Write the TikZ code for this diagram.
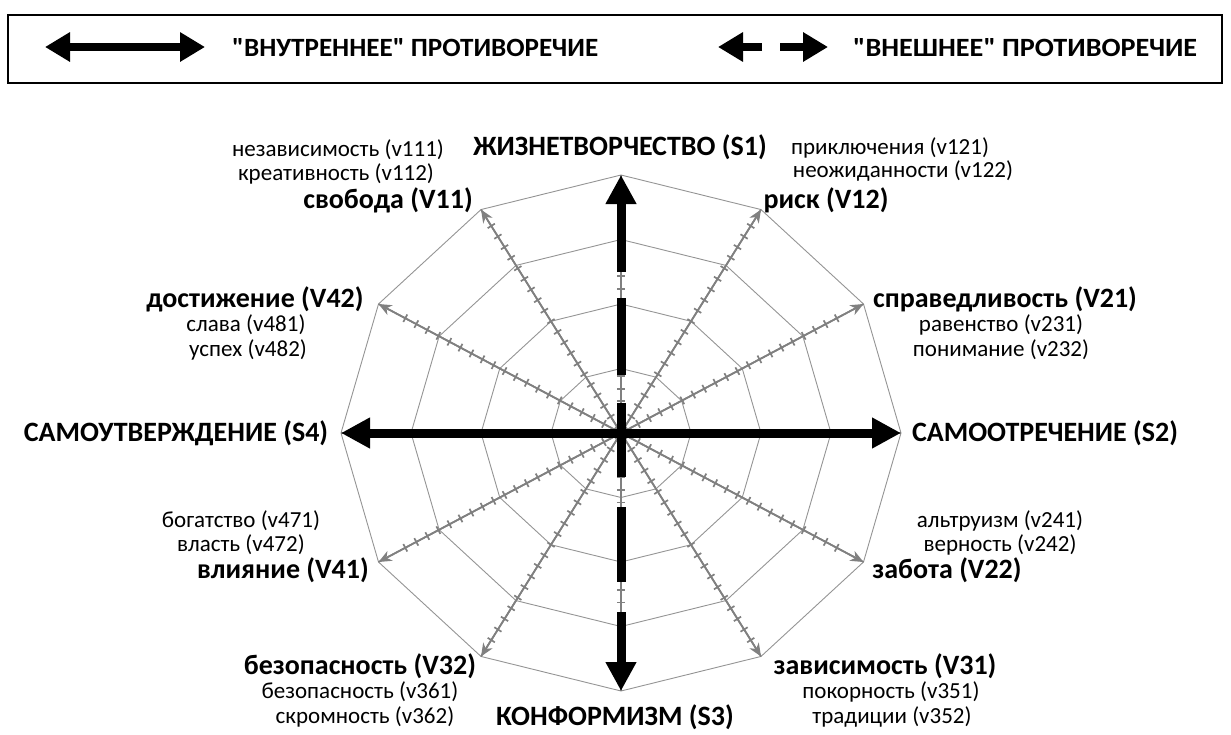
\documentclass[tikz,border=0pt]{standalone}
\usepackage{fontspec}
\setmainfont{Carlito}
\newfontfamily\plainfont{Carlito}
\usetikzlibrary{arrows.meta,calc}
\tikzset{
  bigtip/.tip={Triangle[length=29pt,width=29pt]},
  legtip/.tip={Triangle[length=25pt,width=28pt]},
}
\begin{document}
\begin{tikzpicture}[x=1pt,y=-1pt,
  ring/.style={draw=black!42, line width=0.9pt},
  spoke/.style={draw=black!50, line width=1.7pt},
  tickline/.style={draw=black!50, line width=8.5pt, dash pattern=on 1.7pt off 10.8pt, dash phase=-6pt},
  spokehead/.style={draw=black!50, line width=1.7pt, -{Stealth[length=13pt,width=11pt,inset=4pt]}},
  bigarrow/.style={line width=9pt},
  legarrow/.style={line width=8pt},
  lab/.style={font=\fontsize{23}{26}\selectfont, inner sep=0pt},
  blab/.style={font=\bfseries\fontsize{28}{32}\selectfont, inner sep=0pt},
]
\useasboundingbox (0,0) rectangle (1231,734);
% legend
\draw[line width=2.5pt] (8,15) rectangle (1222,83);
\coordinate (l1a) at (45,47);
\coordinate (l1b) at (205,47);
\draw[legarrow,legtip-legtip] (l1a) -- (l1b);
\node[anchor=west, inner sep=0pt] (lg1) at (232,48)
  {\resizebox{366pt}{18pt}{\plainfont\bfseries "ВНУТРЕННЕЕ" ПРОТИВОРЕЧИЕ}};
\coordinate (l2a) at (762,47);
\coordinate (l2b) at (718,47);
\coordinate (l3a) at (780,47);
\coordinate (l3b) at (828,47);
\draw[legarrow,-legtip] (l2a) -- (l2b);
\draw[legarrow,-legtip] (l3a) -- (l3b);
\node[anchor=west, inner sep=0pt] (lg2) at (853,48)
  {\resizebox{344pt}{18pt}{\plainfont\bfseries "ВНЕШНЕЕ" ПРОТИВОРЕЧИЕ}};
% chart geometry
\coordinate (c) at (621,433);
\foreach \k in {0,...,11}{
  \coordinate (p\k) at ({621+280*cos(30*\k)},{433-258*sin(30*\k)});
}
% rings
\foreach \r in {0.25,0.5,0.75,1}{
  \draw[ring] ({621+280*\r},433)
    \foreach \k in {1,...,11}{ -- ({621+280*\r*cos(30*\k)},{433-258*\r*sin(30*\k)}) } -- cycle;
}
% spokes with ticks
\foreach \k in {0,...,11}{
  \draw[spoke] (c) -- (p\k);
  \draw[tickline] (c) -- ($(c)!0.93!(p\k)$);
}
\foreach \k in {1,2,4,5,7,8,10,11}{
  \draw[spokehead] (c) -- (p\k);
}
% main arrows
\draw[bigarrow,bigtip-bigtip] (p6) -- (p0);
\draw[bigarrow,-bigtip, dash pattern=on 30pt off 28pt on 77pt off 26pt on 300pt] (c) -- (p3);
\draw[bigarrow,-bigtip, dash pattern=on 44pt off 30pt on 75pt off 30pt on 300pt] (c) -- (p9);
% labels
\node[blab] (s1) at (620,147) {ЖИЗНЕТВОРЧЕСТВО (S1)};
\node[lab] (v111) at (338,150) {независимость (v111)};
\node[lab] (v112) at (336,174) {креативность (v112)};
\node[blab] (v11) at (388,200) {свобода (V11)};
\node[lab] (v121) at (890,148) {приключения (v121)};
\node[lab] (v122) at (903,171) {неожиданности (v122)};
\node[blab] (v12) at (826,200) {риск (V12)};
\node[blab] (v21) at (1005,299) {справедливость (V21)};
\node[lab] (v231) at (1001,325) {равенство (v231)};
\node[lab] (v232) at (1001,350) {понимание (v232)};
\node[blab] (s2) at (1045,433) {САМООТРЕЧЕНИЕ (S2)};
\node[lab] (v241) at (1000,521) {альтруизм (v241)};
\node[lab] (v242) at (1000,545) {верность (v242)};
\node[blab] (v22) at (947,570) {забота (V22)};
\node[blab] (v31) at (885,666) {зависимость (V31)};
\node[lab] (v351) at (891,692) {покорность (v351)};
\node[lab] (v352) at (892,717) {традиции (v352)};
\node[blab] (s3) at (615,717) {КОНФОРМИЗМ (S3)};
\node[blab] (v32) at (360,666) {безопасность (V32)};
\node[lab] (v361) at (360,692) {безопасность (v361)};
\node[lab] (v362) at (365,717) {скромность (v362)};
\node[blab] (s4) at (176,433) {САМОУТВЕРЖДЕНИЕ (S4)};
\node[lab] (v471) at (241,521) {богатство (v471)};
\node[lab] (v472) at (241,545) {власть (v472)};
\node[blab] (v41) at (283,570) {влияние (V41)};
\node[blab] (v42) at (255,299) {достижение (V42)};
\node[lab] (v481) at (246,325) {слава (v481)};
\node[lab] (v482) at (248,350) {успех (v482)};
\end{tikzpicture}
\end{document}
